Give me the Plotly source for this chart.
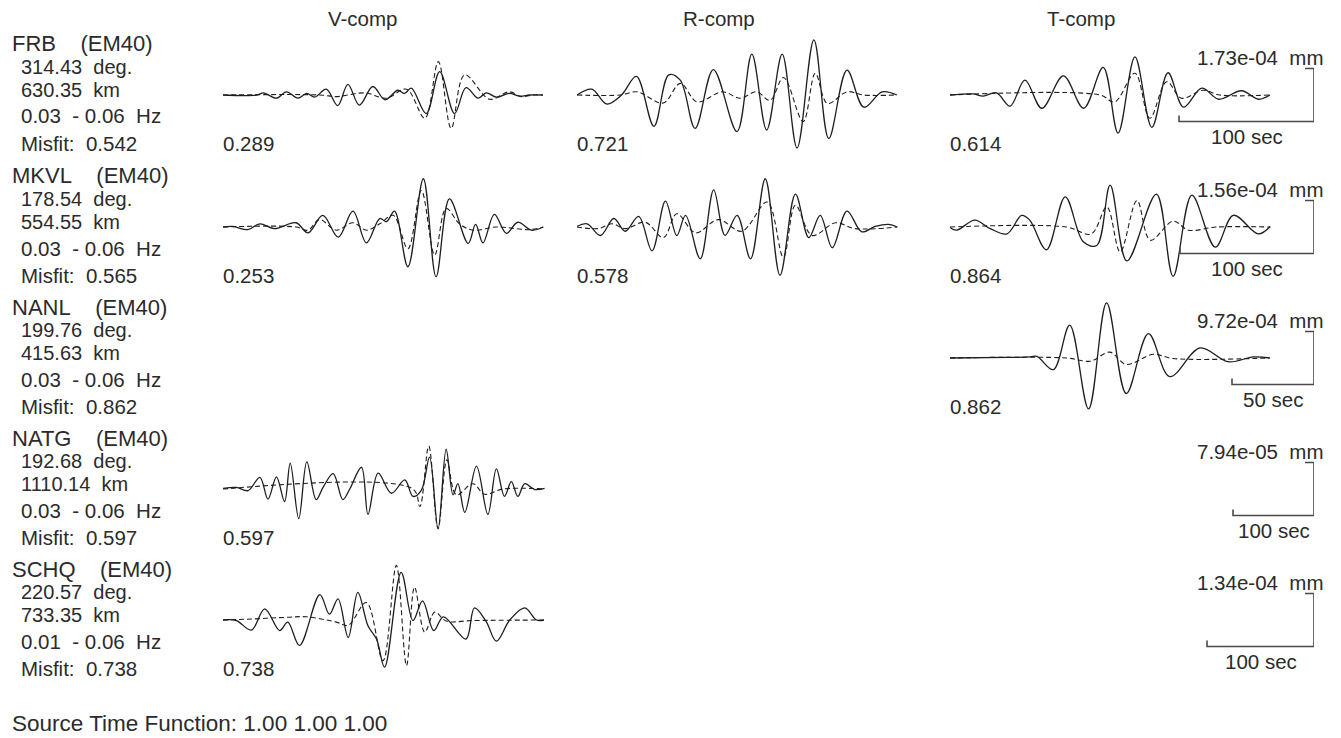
import plotly.graph_objects as go

# ---------------------------------------------------------------------------
# Station metadata
# ---------------------------------------------------------------------------
STATIONS = ["FRB", "MKVL", "NANL", "NATG", "SCHQ"]
MODEL = "EM40"
AZIMUTH_DEG = [314.43, 178.54, 199.76, 192.68, 220.57]
DISTANCE_KM = [630.35, 554.55, 415.63, 1110.14, 733.35]
F_LOW_HZ = [0.03, 0.03, 0.03, 0.03, 0.01]
F_HIGH_HZ = [0.06, 0.06, 0.06, 0.06, 0.06]
MISFIT = [0.542, 0.565, 0.862, 0.597, 0.738]
SCALE_MM = ["1.73e-04", "1.56e-04", "9.72e-04", "7.94e-05", "1.34e-04"]
SCALE_SEC = [100, 100, 50, 100, 100]
COMPONENTS = ["V-comp", "R-comp", "T-comp"]
V_MISFIT = [0.289, 0.253, None, 0.597, 0.738]
R_MISFIT = [0.721, 0.578, None, None, None]
T_MISFIT = [0.614, 0.864, 0.862, None, None]
SOURCE_TIME_FUNCTION = [1.00, 1.00, 1.00]

# ---------------------------------------------------------------------------
# Waveform extrema: time in s from trace start, amplitude in units of the
# station's amplitude scale bar.  obs = solid, syn = dashed.
# ---------------------------------------------------------------------------
FRB_V_OBS_T = [0, 25, 30, 39.5, 47, 55.5, 62, 68, 76.5, 85, 92.5, 101, 111, 120, 129.5, 134.5, 139.5,
               150.5, 160.5, 171.5, 180, 189, 195, 202.5, 212, 220, 227, 237]
FRB_V_OBS_A = [0, 0, 0.04, -0.06, 0.06, -0.06, 0.03, -0.04, 0.11, -0.20, 0.20, -0.19, 0.16, -0.09, 0.09, 0.03, 0.13,
               -0.35, 0.44, -0.35, 0.14, -0.06, 0.04, -0.04, 0.03, -0.02, 0, 0]
FRB_V_SYN_T = [0, 72, 84, 105, 121, 136, 149.5, 159.5, 169, 179, 197.5, 212, 221, 229.5, 237]
FRB_V_SYN_A = [0, 0, -0.03, 0.04, -0.06, 0.11, -0.44, 0.63, -0.63, 0.38, -0.08, 0.06, -0.03, 0, 0]

FRB_R_OBS_T = [0, 11, 22, 33, 44, 57, 68, 76.5, 87.5, 101, 118.5, 129.5, 140.5, 152, 163, 175.5, 186.5,
               200, 212.5, 226, 237]
FRB_R_OBS_A = [0, 0.11, -0.17, 0, 0.35, -0.59, 0.38, 0.28, -0.63, 0.48, -0.69, 0.77, -0.66, 0.77, -1.00,
               1.04, -0.82, 0.47, -0.23, 0.06, 0]
FRB_R_SYN_T = [0, 32, 44.5, 64, 76.5, 89, 107.5, 121, 133, 143, 153, 167.5, 176.5, 185.5, 200, 212, 237]
FRB_R_SYN_A = [0, 0, 0.06, -0.15, 0.22, -0.13, 0.06, -0.06, 0.06, -0.10, 0.33, -0.50, 0.41, -0.16, 0.06, 0, 0]

FRB_T_OBS_T = [0, 17, 24.5, 34.5, 44.5, 55.5, 68, 84, 99, 113.5, 124.5, 137, 149.5, 161.5, 173, 186.5,
               199, 216, 228.5, 237]
FRB_T_OBS_A = [0, 0.02, -0.02, 0.04, -0.21, 0.28, -0.25, 0.36, -0.25, 0.52, -0.72, 0.72, -0.61, 0.42,
               -0.23, 0.13, -0.08, 0.08, -0.08, 0]
FRB_T_SYN_T = [0, 111, 122, 137, 148, 160.5, 171.5, 187.5, 200, 237]
FRB_T_SYN_A = [0, 0, -0.13, 0.41, -0.44, 0.25, -0.06, 0.09, 0, 0]

MKVL_V_OBS_T = [0, 7.5, 18.5, 27.5, 38.5, 54.5, 63.5, 74.5, 86, 97, 107, 117, 122, 128, 138, 149.5, 159,
                169, 183, 188.5, 194, 202.5, 211.5, 220, 230, 239]
MKVL_V_OBS_A = [0, 0.01, -0.05, 0.06, -0.03, 0.08, -0.11, 0.22, -0.19, 0.30, -0.30, 0.16, 0.10, 0.30,
                -0.75, 0.91, -0.94, 0.53, -0.31, 0.05, -0.30, 0.24, -0.12, 0.09, -0.06, 0]
MKVL_V_SYN_T = [0, 54.5, 63.5, 72, 84.5, 97, 107, 117, 127, 138, 148, 158, 166.5, 176.5, 186.5, 204, 229, 239]
MKVL_V_SYN_A = [0, 0, -0.06, 0.14, -0.06, 0.08, -0.06, 0.06, 0.22, -0.41, 0.69, -0.53, 0.35, 0.06,
                -0.06, 0, -0.05, 0]

MKVL_R_OBS_T = [0, 7.5, 17.5, 27.5, 36, 46, 56, 66, 74.5, 81, 92, 102, 110.5, 119.5, 129.5, 140.5, 151.5,
                163, 173, 181.5, 190.5, 201.5, 212.5, 222.5, 232.5, 239]
MKVL_R_OBS_A = [0.01, 0.06, -0.16, 0.16, -0.08, 0.20, -0.45, 0.49, -0.16, 0.22, -0.60, 0.70, -0.16, 0.22,
                -0.60, 0.91, -0.91, 0.62, -0.20, 0.22, -0.39, 0.30, -0.09, 0.01, 0.05, 0]
MKVL_R_SYN_T = [0, 16, 26, 36, 51, 64.5, 74.5, 88.5, 105.5, 123, 142, 154, 163, 175.5, 193, 207.5, 239]
MKVL_R_SYN_A = [0, -0.03, 0.06, -0.03, 0.09, -0.20, 0.25, -0.11, 0.14, -0.08, 0.47, -0.57, 0.41, -0.16,
                0.08, -0.03, 0]

MKVL_T_OBS_T = [0, 5, 18.5, 30, 42.5, 53.5, 59.5, 72, 86, 99.5, 109.5, 119.5, 132, 154, 166.5, 180.5,
                198, 211.5, 230, 239]
MKVL_T_OBS_A = [-0.01, -0.06, 0.13, -0.03, -0.13, 0.22, 0.13, -0.43, 0.57, -0.28, -0.35, 0.79, -0.64,
                0.62, -0.93, 0.60, -0.38, 0.22, -0.13, 0.01]
MKVL_T_SYN_T = [0, 87, 105.5, 117, 127, 139.5, 149.5, 166.5, 178, 199, 239]
MKVL_T_SYN_A = [0, 0, -0.13, 0.38, -0.47, 0.50, -0.25, 0.11, -0.06, 0, 0]

NANL_T_OBS_T = [0, 34.5, 49, 53, 63, 73, 84.5, 95.5, 107.5, 121, 134, 152.5, 169.5, 185, 195]
NANL_T_OBS_A = [0, 0.01, 0.02, 0.03, -0.22, 0.62, -0.96, 1.04, -0.67, 0.46, -0.35, 0.19, -0.07, 0.02, 0]
NANL_T_SYN_T = [0, 71, 85.5, 97.5, 107.5, 124, 136, 195]
NANL_T_SYN_A = [0, 0, -0.06, 0.11, -0.12, 0.07, -0.01, 0]

NATG_V_OBS_T = [0, 16.5, 31, 45.5, 55.5, 66, 76, 83, 93.5, 103.5, 115, 123.5, 136, 148, 156.5, 171, 179,
                191.5, 208, 224.5, 234.5, 245, 255, 265.5, 275.5, 284, 290, 298.5, 313, 327, 337.5,
                347.5, 356, 364, 372.5, 385, 397]
NATG_V_OBS_A = [0.01, 0.03, -0.03, 0.22, -0.19, 0.23, -0.24, 0.49, -0.56, 0.51, -0.20, 0.03, 0.29, -0.20,
                0.0, 0.41, -0.48, 0.30, -0.08, 0.17, -0.14, -0.02, 0.60, -0.75, 0.75, -0.11, 0.10, -0.44,
                0.43, -0.48, 0.38, -0.14, 0.14, -0.14, 0.10, -0.01, 0.01]
NATG_V_SYN_T = [0, 234.5, 243, 254, 265.5, 276.5, 288, 308.5, 323, 345.5, 397]
NATG_V_SYN_A = [0, 0, -0.33, 0.81, -0.75, 0.55, -0.11, 0.10, -0.10, 0, 0]

SCHQ_V_OBS_T = [0, 12.5, 26.5, 39, 53, 60.5, 71.5, 90.5, 99.5, 107.5, 117, 126, 135.5, 143.5, 151, 166.5,
                177.5, 186.5, 197, 206, 227, 235, 246, 255.5, 268, 282, 293, 300]
SCHQ_V_OBS_A = [0, -0.01, -0.19, 0.21, -0.20, -0.04, -0.48, 0.48, 0.11, 0.40, -0.33, 0.52, -0.11, -0.36,
                -0.89, 0.90, -0.01, 0.36, -0.20, 0.06, -0.36, 0.23, -0.03, -0.40, 0.0, 0.23, 0.0, 0]
SCHQ_V_SYN_T = [0, 28, 59, 78, 106, 117, 134, 149.5, 162, 171.5, 179, 188.5, 198, 208.5, 233.5, 300]
SCHQ_V_SYN_A = [0, 0.02, 0.05, 0.06, -0.04, -0.10, 0.33, -0.77, 1.03, -0.86, 0.62, -0.23, 0.15, -0.02,
                -0.01, 0]

# (station row, component column) -> (obs t, obs a, syn t, syn a)
WAVEFORMS = {
    (0, 0): (FRB_V_OBS_T, FRB_V_OBS_A, FRB_V_SYN_T, FRB_V_SYN_A),
    (0, 1): (FRB_R_OBS_T, FRB_R_OBS_A, FRB_R_SYN_T, FRB_R_SYN_A),
    (0, 2): (FRB_T_OBS_T, FRB_T_OBS_A, FRB_T_SYN_T, FRB_T_SYN_A),
    (1, 0): (MKVL_V_OBS_T, MKVL_V_OBS_A, MKVL_V_SYN_T, MKVL_V_SYN_A),
    (1, 1): (MKVL_R_OBS_T, MKVL_R_OBS_A, MKVL_R_SYN_T, MKVL_R_SYN_A),
    (1, 2): (MKVL_T_OBS_T, MKVL_T_OBS_A, MKVL_T_SYN_T, MKVL_T_SYN_A),
    (2, 2): (NANL_T_OBS_T, NANL_T_OBS_A, NANL_T_SYN_T, NANL_T_SYN_A),
    (3, 0): (NATG_V_OBS_T, NATG_V_OBS_A, NATG_V_SYN_T, NATG_V_SYN_A),
    (4, 0): (SCHQ_V_OBS_T, SCHQ_V_OBS_A, SCHQ_V_SYN_T, SCHQ_V_SYN_A),
}
COMP_MISFIT = [V_MISFIT, R_MISFIT, T_MISFIT]

# ---------------------------------------------------------------------------
# Page geometry (pixels)
# ---------------------------------------------------------------------------
FIG_W, FIG_H = 1341, 738
ROW_BASE_PX = [95, 227, 358, 489, 620]      # trace zero line of each station row
COL_X0_PX = [223, 577, 950]                 # left edge of each component column
TRACE_W_PX = 322
BAR_RIGHT_PX = 1314                         # right edge of the scale bars
PX_PER_SEC = [1.35, 1.34, 1.64, 0.81, 1.07]
BAR_PX = 53                                 # height of an amplitude scale bar
PANEL_H_PX = 126
INK = "#1e1e1e"
TEXT = "#2b2b2b"
BAR_COLOR = "#4a4a4a"
FONT = "Liberation Sans, Arial, sans-serif"


def px_x(px):
    return px / FIG_W


def px_y(py):
    return 1 - py / FIG_H


fig = go.Figure()
layout_axes = {}
axis_id = {}
n = 0
for r in range(len(STATIONS)):
    for c in range(len(COMPONENTS)):
        n += 1
        axis_id[(r, c)] = n
        x0 = COL_X0_PX[c]
        x1 = BAR_RIGHT_PX if c == 2 else x0 + TRACE_W_PX
        yb = ROW_BASE_PX[r]
        half = PANEL_H_PX / 2
        sfx = "" if n == 1 else str(n)
        layout_axes["xaxis" + sfx] = dict(
            domain=[px_x(x0), px_x(x1)], range=[0, (x1 - x0) / PX_PER_SEC[r]],
            visible=False, fixedrange=True, anchor="y" + sfx)
        layout_axes["yaxis" + sfx] = dict(
            domain=[px_y(yb + half), px_y(yb - half)],
            range=[-half / BAR_PX, half / BAR_PX],
            visible=False, fixedrange=True, anchor="x" + sfx)


def axis_refs(r, c):
    k = axis_id[(r, c)]
    sfx = "" if k == 1 else str(k)
    return "x" + sfx, "y" + sfx


# seismograms
for (r, c), (ot, oa, st, sa) in WAVEFORMS.items():
    xr, yr = axis_refs(r, c)
    fig.add_trace(go.Scatter(
        x=st, y=sa, mode="lines", xaxis=xr, yaxis=yr, cliponaxis=False,
        line=dict(color=INK, width=1.1, dash="5px,3px", shape="spline", smoothing=1.0),
        hoverinfo="skip", showlegend=False))
    fig.add_trace(go.Scatter(
        x=ot, y=oa, mode="lines", xaxis=xr, yaxis=yr, cliponaxis=False,
        line=dict(color=INK, width=1.3, shape="spline", smoothing=1.0),
        hoverinfo="skip", showlegend=False))

annotations = []


def label(text, px, py, size=20.5, xanchor="left", yanchor="middle"):
    annotations.append(dict(
        text=text, x=px_x(px), y=px_y(py), xref="paper", yref="paper",
        xanchor=xanchor, yanchor=yanchor, showarrow=False, borderpad=0,
        font=dict(family=FONT, size=size, color=TEXT)))


# amplitude / time scale bars in the T column
for r in range(len(STATIONS)):
    xr, yr = axis_refs(r, 2)
    t_end = (BAR_RIGHT_PX - COL_X0_PX[2]) / PX_PER_SEC[r]
    t_start = t_end - SCALE_SEC[r]
    tick_t = 9 / PX_PER_SEC[r]
    tick_a = 6 / BAR_PX
    fig.add_trace(go.Scatter(
        x=[t_start, t_start, t_end, t_end, t_end - tick_t],
        y=[-0.5 + tick_a, -0.5, -0.5, 0.5, 0.5],
        mode="lines", xaxis=xr, yaxis=yr, cliponaxis=False,
        line=dict(color=BAR_COLOR, width=1.6),
        hoverinfo="skip", showlegend=False))
    yb = ROW_BASE_PX[r]
    bar_mid_px = BAR_RIGHT_PX - SCALE_SEC[r] * PX_PER_SEC[r] / 2
    label(f"{SCALE_SEC[r]} sec", bar_mid_px, yb + BAR_PX / 2 + 15, xanchor="center")
    label(f"{SCALE_MM[r]}\u00a0\u00a0mm", 1324, yb - 38, xanchor="right")

# column headers
for name, cx in zip(COMPONENTS, [363, 719, 1081]):
    label(name, cx, 19, xanchor="center")

# station information blocks and per-component misfits
for r, st in enumerate(STATIONS):
    yb = ROW_BASE_PX[r]
    label(f"{st}\u00a0\u00a0\u00a0\u00a0({MODEL})", 11, yb - 51, size=22)
    label(f"{AZIMUTH_DEG[r]:.2f}\u00a0\u00a0deg.", 20, yb - 28, size=20)
    label(f"{DISTANCE_KM[r]:.2f}\u00a0\u00a0km", 20, yb - 5, size=20)
    label(f"{F_LOW_HZ[r]:.2f}\u00a0\u00a0-\u00a0{F_HIGH_HZ[r]:.2f}\u00a0\u00a0Hz", 20, yb + 21)
    label(f"Misfit:\u00a0\u00a0{MISFIT[r]:.3f}", 20, yb + 48)
    for c in range(len(COMPONENTS)):
        v = COMP_MISFIT[c][r]
        if v is not None:
            label(f"{v:.3f}", COL_X0_PX[c] - 1, yb + 48)

label("Source Time Function: " + " ".join(f"{v:.2f}" for v in SOURCE_TIME_FUNCTION),
      11, FIG_H - 1, size=22.5, yanchor="bottom")

fig.update_layout(
    width=FIG_W, height=FIG_H,
    margin=dict(l=0, r=0, t=0, b=0),
    paper_bgcolor="white", plot_bgcolor="white",
    showlegend=False, annotations=annotations,
    **layout_axes)

fig.write_html("out.html", include_plotlyjs=True, config={"displayModeBar": False})
